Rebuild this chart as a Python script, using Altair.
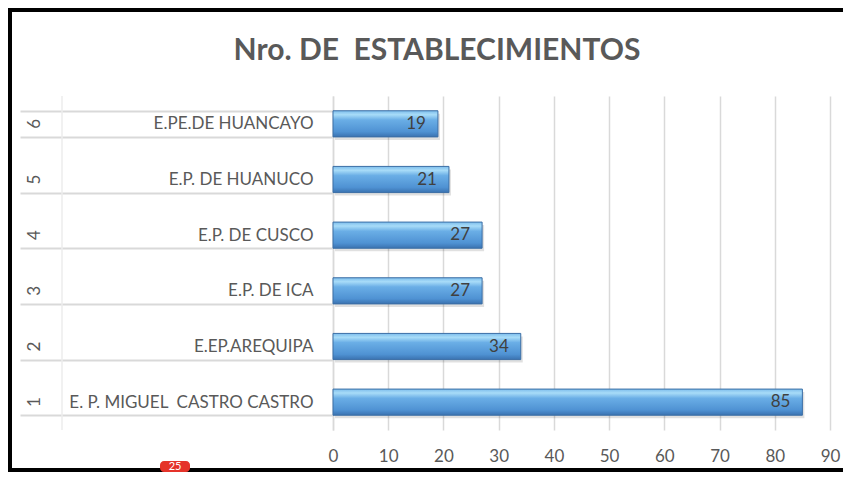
import altair as alt
import pandas as pd

nums = [1, 2, 3, 4, 5, 6]
names = [
    "E. P. MIGUEL\u00a0 CASTRO CASTRO",
    "E.EP.AREQUIPA",
    "E.P. DE ICA\u00a0",
    "E.P. DE CUSCO",
    "E.P. DE HUANUCO",
    "E.PE.DE HUANCAYO",
]
values = [85, 34, 27, 27, 21, 19]
x_ticks = [0, 10, 20, 30, 40, 50, 60, 70, 80, 90]
title_text = "Nro. DE\u00a0 ESTABLECIMIENTOS"
badge_text = "25"

df = pd.DataFrame({"num": nums, "name": names, "value": values})
dummy = pd.DataFrame({"k": [0]})
order = names[::-1]

W, H = 497, 334
PAD_L, PAD_T, PAD_R, PAD_B = 325, 88, 13, 42
FONT = "Lato"
GRAY = "#595959"
LINE = "#d9d9d9"
FS = 17

yenc = alt.Y(
    "name:N",
    sort=order,
    scale=alt.Scale(paddingInner=0.53, paddingOuter=0.265),
    axis=alt.Axis(
        title=None,
        tickBand="extent",
        tickSize=313,
        tickColor=LINE,
        tickWidth=2,
        labelPadding=-293,
        labelFont=FONT,
        labelFontSize=FS,
        labelColor=GRAY,
        labelLimit=400,
        domainColor=LINE,
        domainWidth=1.5,
    ),
)

xenc = alt.X(
    "value:Q",
    scale=alt.Scale(domain=[0, 90], nice=False),
    axis=alt.Axis(
        title=None,
        values=x_ticks,
        domain=False,
        ticks=False,
        grid=True,
        gridColor=LINE,
        gridWidth=1.5,
        labelFont=FONT,
        labelFontSize=FS,
        labelColor=GRAY,
        labelPadding=18,
        labelFlush=False,
    ),
)

grad = alt.LinearGradient(
    gradient="linear",
    x1=0, x2=0, y1=0, y2=1,
    stops=[
        alt.GradientStop(offset=0, color="#7dbdec"),
        alt.GradientStop(offset=0.15, color="#a8dcf8"),
        alt.GradientStop(offset=0.35, color="#6aaee6"),
        alt.GradientStop(offset=0.8, color="#4f92d3"),
        alt.GradientStop(offset=1, color="#3a72b0"),
    ],
)

base = alt.Chart(df)

shadow = base.mark_bar(color="#000000", opacity=0.12, yOffset=3, xOffset=2).encode(x=xenc, y=yenc)
bars = base.mark_bar(color=grad, stroke="#3b6ea5", strokeWidth=1).encode(x=xenc, y=yenc)
vals = base.mark_text(
    align="right", baseline="middle", dx=-12, font=FONT, fontSize=FS, color="#404040"
).encode(x=xenc, y=yenc, text="value:Q")
numlab = base.mark_text(
    angle=270, align="center", baseline="middle", font=FONT, fontSize=FS, color=GRAY
).encode(x=alt.value(-298), y=yenc, text="num:N")

vline = alt.Chart(dummy).mark_rule(color="#ededed", strokeWidth=1.5).encode(
    x=alt.value(-271), y=alt.value(0), y2=alt.value(H)
)
title = alt.Chart(dummy).mark_text(
    text=title_text, font=FONT, fontSize=30, fontWeight="bold", color=GRAY,
    align="center", baseline="alphabetic",
).encode(x=alt.value(104), y=alt.value(-36))

# frame: left, top and bottom edges drawn as thin filled rects
frame_left = alt.Chart(dummy).mark_rect(color="#000000").encode(
    x=alt.value(-325), x2=alt.value(-321), y=alt.value(-88), y2=alt.value(376)
)
frame_top = alt.Chart(dummy).mark_rect(color="#000000").encode(
    x=alt.value(-325), x2=alt.value(510), y=alt.value(-88), y2=alt.value(-84)
)
frame_bot = alt.Chart(dummy).mark_rect(color="#000000").encode(
    x=alt.value(-325), x2=alt.value(510), y=alt.value(372), y2=alt.value(376)
)
badge = alt.Chart(dummy).mark_rect(color="#e5332a", cornerRadius=4).encode(
    x=alt.value(-173), x2=alt.value(-143), y=alt.value(365), y2=alt.value(376)
)
badge_t = alt.Chart(dummy).mark_text(
    text=badge_text, font=FONT, fontSize=11, color="white", align="center", baseline="middle"
).encode(x=alt.value(-158), y=alt.value(370.5))

chart = alt.layer(
    vline, shadow, bars, vals, numlab, title, frame_left, frame_top, frame_bot, badge, badge_t
).properties(
    width=W,
    height=H,
    autosize=alt.AutoSizeParams(type="none"),
    padding={"left": PAD_L, "top": PAD_T, "right": PAD_R, "bottom": PAD_B},
    background="white",
).configure_view(stroke=None)

chart.save("out.html", embed_options={"renderer": "svg", "actions": False})
